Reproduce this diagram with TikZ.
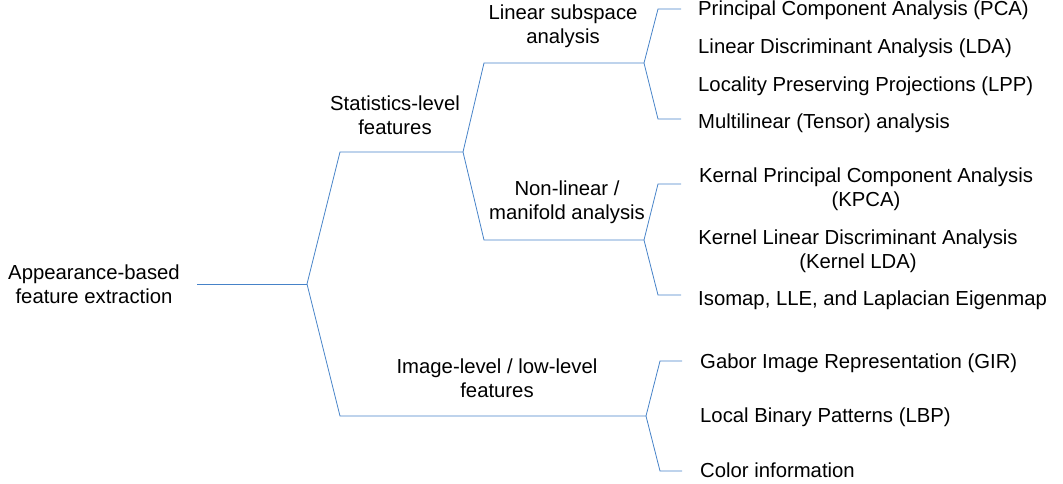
\documentclass[tikz,border=0pt]{standalone}
\usepackage{fontspec}
\setmainfont{Liberation Sans}
\definecolor{branch}{RGB}{70,130,200}
\begin{document}
\begin{tikzpicture}[x=1pt,y=-1pt,
  lbl/.style={align=center,inner sep=0pt,font=\fontsize{20.3}{24}\selectfont,text=black},
  leaf/.style={lbl,anchor=west},
  wire/.style={draw=branch,line width=0.8pt,line join=miter}]
\useasboundingbox (0,0) rectangle (1063,484);
% labels
\node[lbl] (root) at (94,284) {Appearance-based\\feature extraction};
\node[lbl] (stat) at (395,115) {Statistics-level\\features};
\node[lbl] (img) at (497,378) {Image-level / low-level\\features};
\node[lbl] (lin) at (563,26) {Linear subspace\\analysis};
\node[lbl] (non) at (567,202) {Non-linear /\\manifold analysis};
\node[leaf] (pca) at (698,10) {Principal Component Analysis (PCA)};
\node[leaf] (lda) at (698,48) {Linear Discriminant Analysis (LDA)};
\node[leaf] (lpp) at (698,86) {Locality Preserving Projections (LPP)};
\node[leaf] (mla) at (698,123) {Multilinear (Tensor) analysis};
\node[lbl] (kpca) at (866,189) {Kernal Principal Component Analysis\\(KPCA)};
\node[lbl] (klda) at (858,251) {Kernel Linear Discriminant Analysis\\(Kernel LDA)};
\node[leaf] (iso) at (698,300) {Isomap, LLE, and Laplacian Eigenmap};
\node[leaf] (gir) at (700,363) {Gabor Image Representation (GIR)};
\node[leaf] (lbp) at (700,417) {Local Binary Patterns (LBP)};
\node[leaf] (col) at (700,470) {Color information};
% branch coordinates
\coordinate (r0) at (197,284);
\coordinate (r1) at (307,284);
\coordinate (s0) at (340,152);
\coordinate (s1) at (463,152);
\coordinate (i0) at (340,416);
\coordinate (i1) at (646,416);
\coordinate (l0) at (484,63);
\coordinate (l1) at (644,63);
\coordinate (n0) at (484,240);
\coordinate (n1) at (644,240);
\coordinate (la) at (658,9);
\coordinate (la2) at (681,9);
\coordinate (lb) at (658,119);
\coordinate (lb2) at (681,119);
\coordinate (na) at (658,184);
\coordinate (na2) at (681,184);
\coordinate (nb) at (658,295);
\coordinate (nb2) at (681,295);
\coordinate (ia) at (660,361);
\coordinate (ia2) at (682,361);
\coordinate (ib) at (660,471);
\coordinate (ib2) at (682,471);
% connectors
\draw[wire] (r0) -- (r1);
\draw[wire] (r1) -- (s0) -- (s1);
\draw[wire] (r1) -- (i0) -- (i1);
\draw[wire] (s1) -- (l0) -- (l1);
\draw[wire] (s1) -- (n0) -- (n1);
\draw[wire] (l1) -- (la) -- (la2);
\draw[wire] (l1) -- (lb) -- (lb2);
\draw[wire] (n1) -- (na) -- (na2);
\draw[wire] (n1) -- (nb) -- (nb2);
\draw[wire] (i1) -- (ia) -- (ia2);
\draw[wire] (i1) -- (ib) -- (ib2);
\end{tikzpicture}
\end{document}
